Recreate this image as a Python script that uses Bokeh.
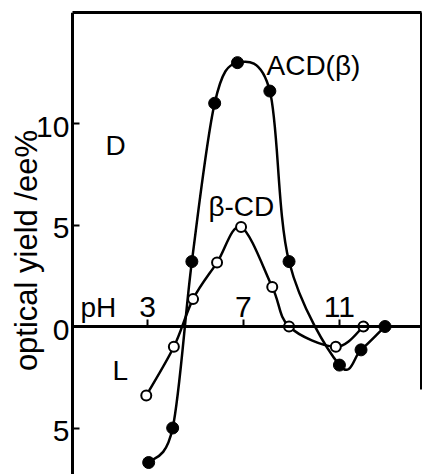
import math
from bokeh.plotting import figure
from bokeh.models import LinearAxis, FixedTicker, Label, Range1d
from bokeh.embed import file_html
from bokeh.resources import INLINE

# pH values and optical yields (ee %)
ph_acd = [3.05, 4.05, 4.85, 5.8, 6.75, 8.1, 8.9, 11.0, 11.9, 12.9]
yield_acd = [-6.7, -5.0, 3.2, 11.0, 13.0, 11.6, 3.2, -1.9, -1.15, 0.0]
ph_bcd = [2.95, 4.1, 4.9, 5.9, 6.9, 8.2, 8.9, 10.85, 12.0]
yield_bcd = [-3.4, -1.0, 1.35, 3.15, 4.9, 1.95, 0.0, -1.0, 0.0]

x_ticks = [3, 7, 11]
y_ticks = [-5, 0, 5, 10]
y_tick_labels = {-5: "5", 0: "0", 5: "5", 10: "10"}
y_title = "optical yield /ee%"

FONT = "Liberation Sans"
FS = "28px"
TFS = "30px"

SPINE_X = -0.125          # pH position of the left frame line
X_END = 14.42
x_range = Range1d(-3.125, X_END)
y_range = Range1d(-7.29, 15.47)

p = figure(width=422, height=474, output_backend="svg", toolbar_location=None,
           x_range=x_range, y_range=y_range,
           x_axis_location=None, y_axis_location=None,
           min_border_left=0, min_border_top=12, min_border_right=1,
           min_border_bottom=0)
p.outline_line_color = None
p.grid.visible = False
p.background_fill_color = "white"
p.border_fill_color = "white"

# left frame line with inward ticks
yaxis = LinearAxis(fixed_location=SPINE_X,
                   ticker=FixedTicker(ticks=y_ticks, minor_ticks=[]),
                   major_label_text_font_size="0px",
                   major_label_text_alpha=0,
                   major_label_standoff=0,
                   major_tick_in=7, major_tick_out=0, major_tick_line_width=2,
                   minor_tick_in=0, minor_tick_out=0,
                   axis_line_width=3, axis_line_color="black")
p.add_layout(yaxis, "left")

for t in y_ticks:
    p.add_layout(Label(x=SPINE_X, y=t, x_offset=-3, y_offset=-3,
                       text=y_tick_labels[t], text_font=FONT,
                       text_font_size=TFS, text_color="black",
                       text_align="right", text_baseline="middle"))

p.add_layout(Label(x=SPINE_X, y=(y_range.start + y_range.end) / 2,
                   x_offset=-46, y_offset=-7,
                   text=y_title, text_font=FONT, text_font_size="31px",
                   text_color="black", text_align="center",
                   text_baseline="middle", angle=math.pi / 2))

# top and right frame lines
top = LinearAxis(ticker=FixedTicker(ticks=[], minor_ticks=[]),
                 bounds=(SPINE_X, X_END),
                 major_label_text_font_size="0px", major_label_standoff=0,
                 major_tick_in=0, major_tick_out=0,
                 minor_tick_in=0, minor_tick_out=0,
                 axis_line_width=3, axis_line_color="black")
p.add_layout(top, "above")
right = LinearAxis(ticker=FixedTicker(ticks=[], minor_ticks=[]),
                   bounds=(-3.1, y_range.end),
                   major_label_text_font_size="0px", major_label_standoff=0,
                   major_tick_in=0, major_tick_out=0,
                   minor_tick_in=0, minor_tick_out=0,
                   axis_line_width=3, axis_line_color="black")
p.add_layout(right, "right")

# pH axis at zero, ticks and labels above the line
xaxis = LinearAxis(fixed_location=0, bounds=(SPINE_X, X_END),
                   ticker=FixedTicker(ticks=x_ticks, minor_ticks=[]),
                   major_label_text_font=FONT, major_label_text_font_size=TFS,
                   major_label_text_color="black",
                   major_label_standoff=3,
                   major_tick_out=7, major_tick_in=0, major_tick_line_width=2,
                   minor_tick_in=0, minor_tick_out=0,
                   axis_line_width=3, axis_line_color="black")
p.add_layout(xaxis, "above")


def smooth_segments(xs, ys):
    """Catmull-Rom style cubic Bezier segments joining consecutive points."""
    n = len(xs)
    seg = {k: [] for k in ("x0", "y0", "x1", "y1", "cx0", "cy0", "cx1", "cy1")}
    for i in range(n - 1):
        a = max(i - 1, 0)
        b = min(i + 2, n - 1)
        seg["x0"].append(xs[i]); seg["y0"].append(ys[i])
        seg["x1"].append(xs[i + 1]); seg["y1"].append(ys[i + 1])
        seg["cx0"].append(xs[i] + (xs[i + 1] - xs[a]) / 6)
        seg["cy0"].append(ys[i] + (ys[i + 1] - ys[a]) / 6)
        seg["cx1"].append(xs[i + 1] - (xs[b] - xs[i]) / 6)
        seg["cy1"].append(ys[i + 1] - (ys[b] - ys[i]) / 6)
    return seg


p.bezier(**smooth_segments(ph_acd, yield_acd), line_width=2.5,
         line_color="black")
p.bezier(**smooth_segments(ph_bcd, yield_bcd), line_width=2.5,
         line_color="black")
p.scatter(ph_acd, yield_acd, size=12, fill_color="black", line_color="black")
p.scatter(ph_bcd, yield_bcd, size=10, fill_color="white", line_color="black",
          line_width=2)


def lab(x, y, t):
    p.add_layout(Label(x=x, y=y, text=t, text_font=FONT, text_font_size=FS,
                       text_color="black", text_baseline="alphabetic"))


lab(7.96, 12.86, "ACD(β)")
lab(5.54, 5.91, "β-CD")
lab(1.25, 8.92, "D")
lab(1.54, -2.17, "L")
lab(0.21, 0.95, "pH")

open("out.html", "w").write(file_html(p, INLINE))
